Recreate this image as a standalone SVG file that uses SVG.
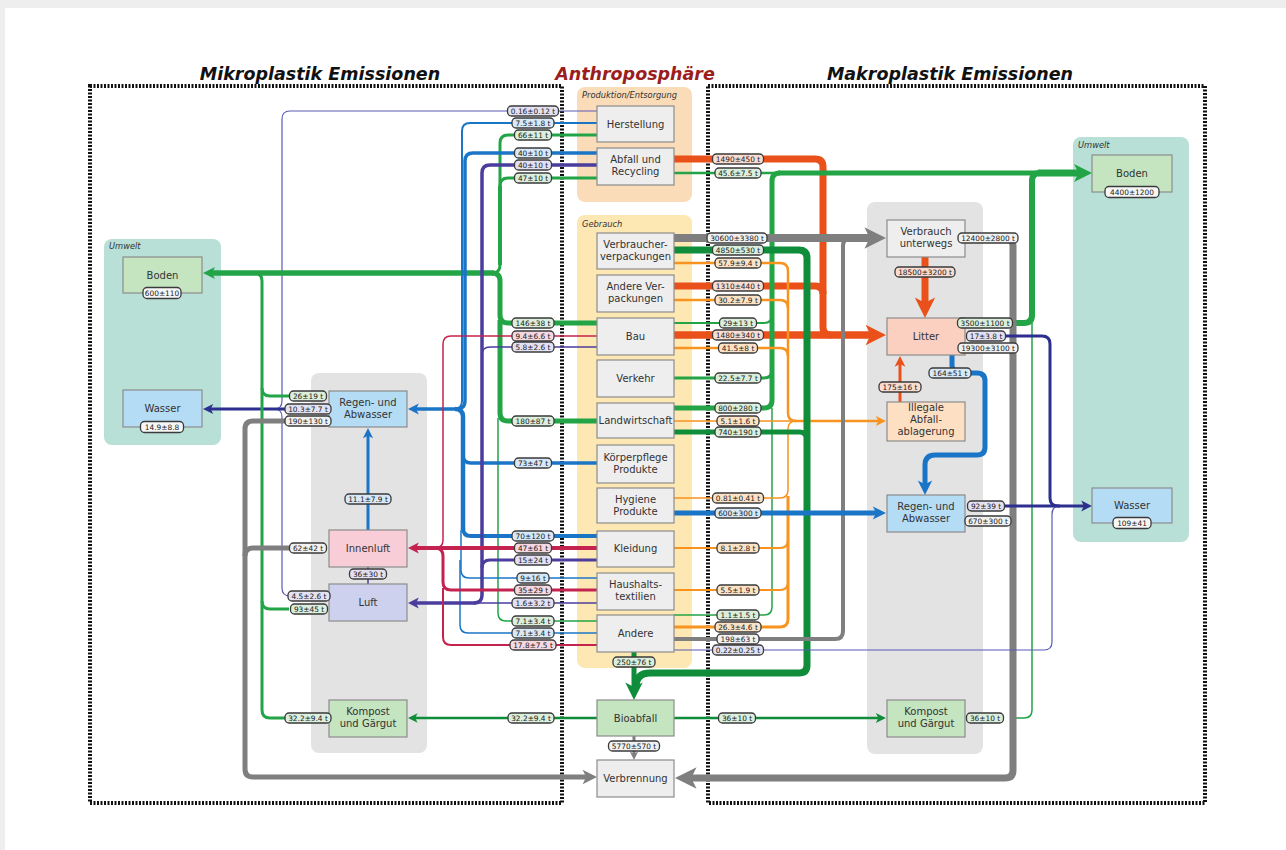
<svg xmlns="http://www.w3.org/2000/svg" xmlns:xlink="http://www.w3.org/1999/xlink" width="1286" height="850" viewBox="0 0 1286 850">
<style>
.t{font-family:"DejaVu Sans","Liberation Sans",sans-serif;font-size:10px;fill:#333;text-anchor:middle}
.bt{font-family:"DejaVu Sans","Liberation Sans",sans-serif;font-size:7.4px;fill:#1a1a1a;text-anchor:middle}
.it{font-family:"DejaVu Sans","Liberation Sans",sans-serif;font-size:8.3px;font-style:italic;fill:#333}
.ttl{font-family:"DejaVu Sans","Liberation Sans",sans-serif;font-size:17.5px;font-weight:bold;font-style:italic;fill:#111;text-anchor:middle}
.c{fill:none;stroke-linecap:butt;stroke-linejoin:round}
.g{stroke:#22a447}.dg{stroke:#0f8d3b}.r{stroke:#ea5019}.o{stroke:#f7931e}.gr{stroke:#7f7f7f}.b{stroke:#1b75c7}.p{stroke:#4a3d9e}.cr{stroke:#c4234f}.n{stroke:#2d2f8f}.nt{stroke:#5a5ab8}
.nd rect{stroke:#8c8c8c;stroke-width:1.2}
.ng{fill:#eeeeee}.nG{fill:#c5e4c0}.nB{fill:#b5dcf5}.nP{fill:#f8cdd8}.nL{fill:#cdd1ee}.nR{fill:#fcd0c0}.nO{fill:#fde0c4}
.bd rect{stroke:#3a3a3a;stroke-width:1.3}
.fg{fill:#dcefdc}.fb{fill:#d8e8f6}.fn{fill:#e2e2f2}.fp{fill:#e4e0f3}.fc{fill:#f6d8e0}.fr{fill:#fbdcd0}.fo{fill:#fde3c6}.fgr{fill:#f1f1f1}.fw{fill:#f7f7f7}
.dot{fill:none;stroke:#111;stroke-width:4;stroke-dasharray:2 1.5}
</style>
<defs>
<path id="ah" d="M0,0 L-12,-6 L-9,0 L-12,6 Z"/>
</defs>
<rect x="0" y="0" width="1286" height="850" fill="#eeeeee"/>
<rect x="5" y="8" width="1281" height="842" fill="#ffffff"/>

<g id="panels">
<rect x="104" y="239" width="117" height="206" rx="8" fill="#b8e0d7"/>
<text class="it" x="109" y="249">Umwelt</text>
<rect x="1073" y="137" width="116" height="405" rx="8" fill="#b8e0d7"/>
<text class="it" x="1078" y="148">Umwelt</text>
<rect x="311" y="373" width="116" height="380" rx="8" fill="#e3e3e3"/>
<rect x="867" y="202" width="116" height="552" rx="8" fill="#e3e3e3"/>
<rect x="577" y="87" width="115" height="115" rx="8" fill="#fadcb8"/>
<text class="it" x="582" y="98">Produktion/Entsorgung</text>
<rect x="577" y="215" width="115" height="453" rx="8" fill="#fde8b3"/>
<text class="it" x="582" y="227">Gebrauch</text>
<rect class="dot" x="90" y="86" width="472" height="717"/>
<rect class="dot" x="708" y="86" width="497" height="717"/>
<text class="ttl" x="320" y="80">Mikroplastik Emissionen</text>
<text class="ttl" x="635" y="80" style="fill:#9b1d1d">Anthroposphäre</text>
<text class="ttl" x="950" y="80">Makroplastik Emissionen</text>
</g>

<g id="connectors">
<!-- left: navy -->
<path class="c nt" stroke-width="1.2" d="M597,111 H290 Q282,111 282,119 V401 Q282,409 274,409"/>
<path class="c nt" stroke-width="1.2" d="M290,596 Q282,596 282,588 V417 Q282,409 274,409"/>
<path class="c n" stroke-width="3" d="M289,409 H210"/>
<use href="#ah" transform="translate(203,409) rotate(180) scale(0.85)" fill="#2d2f8f"/>
<!-- left: green x=262 -->
<path class="c g" stroke-width="3" d="M289,718 H270 Q262,718 262,710 V281 Q262,273 254,273"/>
<path class="c g" stroke-width="3" d="M289,396 H270 Q262,396 262,388"/>
<path class="c g" stroke-width="3" d="M289,609 H270 Q262,609 262,601"/>
<!-- left: gray x=245 -->
<path class="c gr" stroke-width="5" d="M289,421 H253 Q245,421 245,429 V769 Q245,777 253,777 H586"/>
<path class="c gr" stroke-width="5" d="M289,548 H253 Q245,548 245,556"/>
<use href="#ah" transform="translate(597,777) scale(1.2)" fill="#7f7f7f"/>
<!-- green to Boden -->
<path class="c g" stroke-width="3" d="M597,135 H508 Q500,135 500,143 V265 Q500,273 492,273"/>
<path class="c g" stroke-width="3" d="M597,178 H508 Q500,178 500,186"/>
<path class="c g" stroke-width="4" d="M500,186 V265"/>
<path class="c g" stroke-width="5" d="M597,323 H508 Q500,323 500,315 V281 Q500,273 492,273"/>
<path class="c g" stroke-width="5" d="M597,421 H508 Q500,421 500,413 V320"/>
<path class="c g" stroke-width="1.5" d="M597,621 H506 Q498,621 498,613 V418"/>
<path class="c g" stroke-width="5.5" d="M494,273 H211"/>
<use href="#ah" transform="translate(203,273) rotate(180)" fill="#22a447"/>
<!-- blue to Regen -->
<path class="c b" stroke-width="2" d="M597,123 H470 Q462,123 462,131 V401 Q462,409 454,409"/>
<path class="c b" stroke-width="3.5" d="M597,153 H473 Q465,153 465,161 V401 Q465,409 457,409"/>
<path class="c b" stroke-width="3.5" d="M597,463 H471 Q463,463 463,455"/>
<path class="c b" stroke-width="4" d="M597,536 H471 Q463,536 463,528"/>
<path class="c b" stroke-width="4.5" d="M463,530 V417 Q463,409 455,409"/>
<path class="c b" stroke-width="1.5" d="M597,578 H469 Q461,578 461,570 V530"/>
<path class="c b" stroke-width="1.5" d="M597,633 H468 Q460,633 460,625 V560"/>
<path class="c b" stroke-width="3.5" d="M457,409 H415"/>
<use href="#ah" transform="translate(408,409) rotate(180) scale(0.9)" fill="#1b75c7"/>
<!-- purple to Luft -->
<path class="c p" stroke-width="3.5" d="M597,165 H490 Q482,165 482,173 V595 Q482,603 474,603"/>
<path class="c p" stroke-width="1.5" d="M597,347 H490 Q482,347 482,355"/>
<path class="c p" stroke-width="3" d="M597,560 H490 Q482,560 482,568"/>
<path class="c p" stroke-width="1.5" d="M597,603 H474"/>
<path class="c p" stroke-width="3.5" d="M476,603 H415"/>
<use href="#ah" transform="translate(408,603) rotate(180) scale(0.9)" fill="#4a3d9e"/>
<!-- crimson to Innenluft -->
<path class="c cr" stroke-width="1.5" d="M597,336 H451 Q443,336 443,344 V540 Q443,548 435,548"/>
<path class="c cr" stroke-width="3" d="M597,590 H451 Q443,590 443,582 V556 Q443,548 435,548"/>
<path class="c cr" stroke-width="2" d="M597,645 H451 Q443,645 443,637 V588"/>
<path class="c cr" stroke-width="4" d="M597,548 H415"/>
<use href="#ah" transform="translate(408,548) rotate(180) scale(0.9)" fill="#c4234f"/>
<!-- internal left -->
<path class="c b" stroke-width="3" d="M368,530 V435"/>
<use href="#ah" transform="translate(368,428) rotate(-90) scale(0.85)" fill="#1b75c7"/>
<path class="c p" stroke-width="1.5" d="M368,567 V584"/>
<path class="c dg" stroke-width="2.5" d="M597,718 H414"/>
<use href="#ah" transform="translate(408,718) rotate(180) scale(0.8)" fill="#0f8d3b"/>
<!-- bioabfall / verbrennung -->
<path class="c dg" stroke-width="5" d="M634,652 V688"/>
<path class="c gr" stroke-width="3" d="M634,736 V754"/>
<use href="#ah" transform="translate(634,760) rotate(90) scale(0.7)" fill="#7f7f7f"/>
<!-- right: red -->
<path class="c r" stroke-width="7" d="M674,159 H815 Q823,159 823,167 V327 Q823,335 831,335"/>
<path class="c r" stroke-width="7" d="M674,286 H815 Q823,286 823,294"/>
<path class="c r" stroke-width="7.5" d="M674,335 H872"/>
<use href="#ah" transform="translate(886,335) scale(1.7)" fill="#ea5019"/>
<path class="c r" stroke-width="7" d="M925,257 V304"/>
<use href="#ah" transform="translate(925,318) rotate(90) scale(1.7)" fill="#ea5019"/>
<path class="c r" stroke-width="3" d="M900,402 V363"/>
<use href="#ah" transform="translate(900,356) rotate(-90) scale(0.9)" fill="#ea5019"/>
<!-- right: green -->
<path class="c g" stroke-width="2.5" d="M674,173 H780"/>
<path class="c g" stroke-width="2" d="M674,323 H764 Q772,323 772,315"/>
<path class="c g" stroke-width="3" d="M674,378 H764 Q772,378 772,370"/>
<path class="c g" stroke-width="1.5" d="M674,615 H764 Q772,615 772,607 V408"/>
<path class="c g" stroke-width="5" d="M674,408 H764 Q772,408 772,400 V181 Q772,173 780,173"/>
<path class="c g" stroke-width="5" d="M778,173 H1040"/>
<path class="c g" stroke-width="1.5" d="M1012,718 H1024 Q1032,718 1032,710 V323"/>
<path class="c g" stroke-width="6" d="M1012,323 H1024 Q1032,323 1032,315 V181 Q1032,173 1040,173"/>
<path class="c g" stroke-width="7" d="M1038,173 H1080"/>
<use href="#ah" transform="translate(1092,173) scale(1.5)" fill="#22a447"/>
<!-- right: orange -->
<path class="c o" stroke-width="2.5" d="M674,263 H780 Q788,263 788,271 V413 Q788,421 796,421"/>
<path class="c o" stroke-width="2.5" d="M674,300 H780 Q788,300 788,308"/>
<path class="c o" stroke-width="2.5" d="M674,348 H780 Q788,348 788,356"/>
<path class="c o" stroke-width="1.5" d="M674,421 H796"/>
<path class="c o" stroke-width="1.5" d="M674,498 H780 Q788,498 788,490 V429 Q788,421 796,421"/>
<path class="c o" stroke-width="2" d="M674,548 H780 Q788,548 788,540"/>
<path class="c o" stroke-width="2" d="M674,590 H780 Q788,590 788,582"/>
<path class="c o" stroke-width="3" d="M674,627 H780 Q788,627 788,619 V496"/>
<path class="c o" stroke-width="2.5" d="M794,421 H879"/>
<use href="#ah" transform="translate(886,421) scale(0.85)" fill="#f7931e"/>
<!-- right: dark green -->
<path class="c dg" stroke-width="7" d="M674,250 H799 Q807,250 807,258 V665 Q807,673 799,673 H650 Q636,673 636,687"/>
<path class="c dg" stroke-width="5" d="M674,432 H799 Q807,432 807,440"/>
<use href="#ah" transform="translate(634,700) rotate(90) scale(1.45)" fill="#0f8d3b"/>
<path class="c dg" stroke-width="2.5" d="M674,718 H879"/>
<use href="#ah" transform="translate(886,718) scale(0.85)" fill="#0f8d3b"/>
<!-- right: gray -->
<path class="c gr" stroke-width="4" d="M674,639 H835 Q843,639 843,631 V246 Q843,238 851,238"/>
<path class="c gr" stroke-width="8" d="M674,238 H872"/>
<use href="#ah" transform="translate(886,238) scale(1.8)" fill="#7f7f7f"/>
<path class="c gr" stroke-width="6" d="M990,348 H1005 Q1013,348 1013,356"/>
<path class="c gr" stroke-width="4" d="M990,521 H1005 Q1013,521 1013,529"/>
<path class="c gr" stroke-width="7" d="M990,238 H1005 Q1013,238 1013,246 V770 Q1013,778 1005,778 H689"/>
<use href="#ah" transform="translate(675,778) rotate(180) scale(1.8)" fill="#7f7f7f"/>
<!-- right: navy -->
<path class="c nt" stroke-width="1.2" d="M674,650 H1044 Q1052,650 1052,642 V514 Q1052,506 1060,506"/>
<path class="c n" stroke-width="3" d="M990,336 H1042 Q1050,336 1050,344 V498 Q1050,506 1058,506 H1085"/>
<path class="c n" stroke-width="3" d="M990,506 H1060"/>
<use href="#ah" transform="translate(1092,506) scale(0.9)" fill="#2d2f8f"/>
<!-- right: blue -->
<path class="c b" stroke-width="5" d="M674,513 H877"/>
<use href="#ah" transform="translate(886,513) scale(1.1)" fill="#1b75c7"/>
<path class="c b" stroke-width="5" d="M952,355 V365 Q952,373 960,373 H977 Q985,373 985,381 V447 Q985,455 977,455 H935 Q925,455 925,465 V485"/>
<use href="#ah" transform="translate(925,495) rotate(90) scale(1.2)" fill="#1b75c7"/>
</g>

<g id="n-herstellung" class="nd"><rect class="ng" x="597" y="106" width="77" height="36"/><text class="t" x="635.5" y="127.5">Herstellung</text></g>
<g id="n-abfall" class="nd"><rect class="ng" x="597" y="148" width="77" height="37"/><text class="t" x="635.5" y="163">Abfall und</text><text class="t" x="635.5" y="175">Recycling</text></g>
<g id="n-vverp" class="nd"><rect class="ng" x="597" y="233" width="77" height="36"/><text class="t" x="635.5" y="248">Verbraucher-</text><text class="t" x="635.5" y="260">verpackungen</text></g>
<g id="n-averp" class="nd"><rect class="ng" x="597" y="275" width="77" height="37"/><text class="t" x="635.5" y="290">Andere Ver-</text><text class="t" x="635.5" y="302">packungen</text></g>
<g id="n-bau" class="nd"><rect class="ng" x="597" y="318" width="77" height="37"/><text class="t" x="635.5" y="340">Bau</text></g>
<g id="n-verkehr" class="nd"><rect class="ng" x="597" y="360" width="77" height="37"/><text class="t" x="635.5" y="382">Verkehr</text></g>
<g id="n-landw" class="nd"><rect class="ng" x="597" y="403" width="77" height="35"/><text class="t" x="635.5" y="424">Landwirtschaft</text></g>
<g id="n-koerper" class="nd"><rect class="ng" x="597" y="445" width="77" height="38"/><text class="t" x="635.5" y="461">Körperpflege</text><text class="t" x="635.5" y="473">Produkte</text></g>
<g id="n-hygiene" class="nd"><rect class="ng" x="597" y="488" width="77" height="35"/><text class="t" x="635.5" y="503">Hygiene</text><text class="t" x="635.5" y="515">Produkte</text></g>
<g id="n-kleidung" class="nd"><rect class="ng" x="597" y="531" width="77" height="36"/><text class="t" x="635.5" y="552">Kleidung</text></g>
<g id="n-haushalt" class="nd"><rect class="ng" x="597" y="573" width="77" height="37"/><text class="t" x="635.5" y="588">Haushalts-</text><text class="t" x="635.5" y="600">textilien</text></g>
<g id="n-andere" class="nd"><rect class="ng" x="597" y="615" width="77" height="37"/><text class="t" x="635.5" y="637">Andere</text></g>
<g id="n-bioabfall" class="nd"><rect class="nG" x="597" y="700" width="77" height="36"/><text class="t" x="635.5" y="721.5">Bioabfall</text></g>
<g id="n-verbrennung" class="nd"><rect class="ng" x="597" y="760" width="77" height="37"/><text class="t" x="635.5" y="782">Verbrennung</text></g>

<g id="n-boden-l" class="nd"><rect class="nG" x="123" y="257" width="79" height="36"/><text class="t" x="162.5" y="279">Boden</text></g>
<g id="n-wasser-l" class="nd"><rect class="nB" x="123" y="390" width="79" height="37"/><text class="t" x="162.5" y="412">Wasser</text></g>
<g id="n-regen-l" class="nd"><rect class="nB" x="329" y="391" width="78" height="36"/><text class="t" x="368" y="406">Regen- und</text><text class="t" x="368" y="418">Abwasser</text></g>
<g id="n-innenluft" class="nd"><rect class="nP" x="329" y="530" width="78" height="37"/><text class="t" x="368" y="552">Innenluft</text></g>
<g id="n-luft" class="nd"><rect class="nL" x="329" y="584" width="78" height="37"/><text class="t" x="368" y="606">Luft</text></g>
<g id="n-kompost-l" class="nd"><rect class="nG" x="329" y="700" width="78" height="37"/><text class="t" x="368" y="715">Kompost</text><text class="t" x="368" y="727">und Gärgut</text></g>

<g id="n-verbrauch" class="nd"><rect class="ng" x="887" y="220" width="78" height="37"/><text class="t" x="926" y="235">Verbrauch</text><text class="t" x="926" y="247">unterwegs</text></g>
<g id="n-litter" class="nd"><rect class="nR" x="887" y="318" width="78" height="37"/><text class="t" x="926" y="340">Litter</text></g>
<g id="n-illegal" class="nd"><rect class="nO" x="887" y="402" width="78" height="39"/><text class="t" x="926" y="411">Illegale</text><text class="t" x="926" y="423">Abfall-</text><text class="t" x="926" y="435">ablagerung</text></g>
<g id="n-regen-r" class="nd"><rect class="nB" x="887" y="495" width="78" height="37"/><text class="t" x="926" y="510">Regen- und</text><text class="t" x="926" y="522">Abwasser</text></g>
<g id="n-kompost-r" class="nd"><rect class="nG" x="887" y="700" width="78" height="37"/><text class="t" x="926" y="715">Kompost</text><text class="t" x="926" y="727">und Gärgut</text></g>
<g id="n-boden-r" class="nd"><rect class="nG" x="1092" y="155" width="80" height="37"/><text class="t" x="1132" y="177">Boden</text></g>
<g id="n-wasser-r" class="nd"><rect class="nB" x="1092" y="488" width="80" height="35"/><text class="t" x="1132" y="509">Wasser</text></g>

<g id="labels" class="bd">
<g transform="translate(533,111)"><rect class="fn" x="-25.5" y="-5" width="51" height="10" rx="4"/><text class="bt" y="2.6">0.16±0.12 t</text></g>
<g transform="translate(533,123)"><rect class="fb" x="-21" y="-5" width="42" height="10" rx="4"/><text class="bt" y="2.6">7.5±1.8 t</text></g>
<g transform="translate(533,135)"><rect class="fg" x="-18.5" y="-5" width="37" height="10" rx="4"/><text class="bt" y="2.6">66±11 t</text></g>
<g transform="translate(533,153)"><rect class="fb" x="-18.5" y="-5" width="37" height="10" rx="4"/><text class="bt" y="2.6">40±10 t</text></g>
<g transform="translate(533,165)"><rect class="fp" x="-18.5" y="-5" width="37" height="10" rx="4"/><text class="bt" y="2.6">40±10 t</text></g>
<g transform="translate(533,178)"><rect class="fg" x="-18.5" y="-5" width="37" height="10" rx="4"/><text class="bt" y="2.6">47±10 t</text></g>
<g transform="translate(533,323)"><rect class="fg" x="-21" y="-5" width="42" height="10" rx="4"/><text class="bt" y="2.6">146±38 t</text></g>
<g transform="translate(533,336)"><rect class="fc" x="-21" y="-5" width="42" height="10" rx="4"/><text class="bt" y="2.6">9.4±6.6 t</text></g>
<g transform="translate(533,347)"><rect class="fp" x="-21" y="-5" width="42" height="10" rx="4"/><text class="bt" y="2.6">5.8±2.6 t</text></g>
<g transform="translate(533,421)"><rect class="fg" x="-21" y="-5" width="42" height="10" rx="4"/><text class="bt" y="2.6">180±87 t</text></g>
<g transform="translate(533,463)"><rect class="fb" x="-18.5" y="-5" width="37" height="10" rx="4"/><text class="bt" y="2.6">73±47 t</text></g>
<g transform="translate(533,536)"><rect class="fb" x="-21" y="-5" width="42" height="10" rx="4"/><text class="bt" y="2.6">70±120 t</text></g>
<g transform="translate(533,548)"><rect class="fc" x="-18.5" y="-5" width="37" height="10" rx="4"/><text class="bt" y="2.6">47±61 t</text></g>
<g transform="translate(533,560)"><rect class="fp" x="-18.5" y="-5" width="37" height="10" rx="4"/><text class="bt" y="2.6">15±24 t</text></g>
<g transform="translate(533,578)"><rect class="fb" x="-16" y="-5" width="32" height="10" rx="4"/><text class="bt" y="2.6">9±16 t</text></g>
<g transform="translate(533,590)"><rect class="fc" x="-18.5" y="-5" width="37" height="10" rx="4"/><text class="bt" y="2.6">35±29 t</text></g>
<g transform="translate(533,603)"><rect class="fp" x="-21" y="-5" width="42" height="10" rx="4"/><text class="bt" y="2.6">1.6±3.2 t</text></g>
<g transform="translate(533,621)"><rect class="fg" x="-21" y="-5" width="42" height="10" rx="4"/><text class="bt" y="2.6">7.1±3.4 t</text></g>
<g transform="translate(533,633)"><rect class="fb" x="-21" y="-5" width="42" height="10" rx="4"/><text class="bt" y="2.6">7.1±3.4 t</text></g>
<g transform="translate(533,645)"><rect class="fc" x="-23" y="-5" width="46" height="10" rx="4"/><text class="bt" y="2.6">17.8±7.5 t</text></g>
<g transform="translate(531,718)"><rect class="fg" x="-23" y="-5" width="46" height="10" rx="4"/><text class="bt" y="2.6">32.2±9.4 t</text></g>

<g transform="translate(738,159)"><rect class="fr" x="-25.5" y="-5" width="51" height="10" rx="4"/><text class="bt" y="2.6">1490±450 t</text></g>
<g transform="translate(738,173)"><rect class="fg" x="-23" y="-5" width="46" height="10" rx="4"/><text class="bt" y="2.6">45.6±7.5 t</text></g>
<g transform="translate(737,238)"><rect class="fgr" x="-30" y="-5" width="60" height="10" rx="4"/><text class="bt" y="2.6">30600±3380 t</text></g>
<g transform="translate(738,250)"><rect class="fg" x="-25.5" y="-5" width="51" height="10" rx="4"/><text class="bt" y="2.6">4850±530 t</text></g>
<g transform="translate(738,263)"><rect class="fo" x="-23" y="-5" width="46" height="10" rx="4"/><text class="bt" y="2.6">57.9±9.4 t</text></g>
<g transform="translate(738,286)"><rect class="fr" x="-25.5" y="-5" width="51" height="10" rx="4"/><text class="bt" y="2.6">1310±440 t</text></g>
<g transform="translate(738,300)"><rect class="fo" x="-23" y="-5" width="46" height="10" rx="4"/><text class="bt" y="2.6">30.2±7.9 t</text></g>
<g transform="translate(738,323)"><rect class="fg" x="-18.5" y="-5" width="37" height="10" rx="4"/><text class="bt" y="2.6">29±13 t</text></g>
<g transform="translate(738,335)"><rect class="fr" x="-25.5" y="-5" width="51" height="10" rx="4"/><text class="bt" y="2.6">1480±340 t</text></g>
<g transform="translate(738,348)"><rect class="fo" x="-19.5" y="-5" width="39" height="10" rx="4"/><text class="bt" y="2.6">41.5±8 t</text></g>
<g transform="translate(738,378)"><rect class="fg" x="-23" y="-5" width="46" height="10" rx="4"/><text class="bt" y="2.6">22.5±7.7 t</text></g>
<g transform="translate(738,408)"><rect class="fg" x="-23" y="-5" width="46" height="10" rx="4"/><text class="bt" y="2.6">800±280 t</text></g>
<g transform="translate(738,421)"><rect class="fo" x="-21" y="-5" width="42" height="10" rx="4"/><text class="bt" y="2.6">5.1±1.6 t</text></g>
<g transform="translate(738,432)"><rect class="fg" x="-23" y="-5" width="46" height="10" rx="4"/><text class="bt" y="2.6">740±190 t</text></g>
<g transform="translate(738,498)"><rect class="fo" x="-25.5" y="-5" width="51" height="10" rx="4"/><text class="bt" y="2.6">0.81±0.41 t</text></g>
<g transform="translate(738,513)"><rect class="fb" x="-23" y="-5" width="46" height="10" rx="4"/><text class="bt" y="2.6">600±300 t</text></g>
<g transform="translate(738,548)"><rect class="fo" x="-21" y="-5" width="42" height="10" rx="4"/><text class="bt" y="2.6">8.1±2.8 t</text></g>
<g transform="translate(738,590)"><rect class="fo" x="-21" y="-5" width="42" height="10" rx="4"/><text class="bt" y="2.6">5.5±1.9 t</text></g>
<g transform="translate(738,615)"><rect class="fg" x="-21" y="-5" width="42" height="10" rx="4"/><text class="bt" y="2.6">1.1±1.5 t</text></g>
<g transform="translate(738,627)"><rect class="fo" x="-23" y="-5" width="46" height="10" rx="4"/><text class="bt" y="2.6">26.3±4.6 t</text></g>
<g transform="translate(738,639)"><rect class="fgr" x="-21" y="-5" width="42" height="10" rx="4"/><text class="bt" y="2.6">198±63 t</text></g>
<g transform="translate(738,650)"><rect class="fn" x="-25.5" y="-5" width="51" height="10" rx="4"/><text class="bt" y="2.6">0.22±0.25 t</text></g>
<g transform="translate(737,718)"><rect class="fg" x="-18.5" y="-5" width="37" height="10" rx="4"/><text class="bt" y="2.6">36±10 t</text></g>

<g transform="translate(308,396)"><rect class="fg" x="-18.5" y="-5" width="37" height="10" rx="4"/><text class="bt" y="2.6">26±19 t</text></g>
<g transform="translate(308,409)"><rect class="fn" x="-23" y="-5" width="46" height="10" rx="4"/><text class="bt" y="2.6">10.3±7.7 t</text></g>
<g transform="translate(308,421)"><rect class="fgr" x="-23" y="-5" width="46" height="10" rx="4"/><text class="bt" y="2.6">190±130 t</text></g>
<g transform="translate(308,548)"><rect class="fgr" x="-18.5" y="-5" width="37" height="10" rx="4"/><text class="bt" y="2.6">62±42 t</text></g>
<g transform="translate(309,596)"><rect class="fn" x="-21" y="-5" width="42" height="10" rx="4"/><text class="bt" y="2.6">4.5±2.6 t</text></g>
<g transform="translate(309,609)"><rect class="fg" x="-18.5" y="-5" width="37" height="10" rx="4"/><text class="bt" y="2.6">93±45 t</text></g>
<g transform="translate(308,718)"><rect class="fg" x="-23" y="-5" width="46" height="10" rx="4"/><text class="bt" y="2.6">32.2±9.4 t</text></g>
<g transform="translate(368,499)"><rect class="fb" x="-23" y="-5" width="46" height="10" rx="4"/><text class="bt" y="2.6">11.1±7.9 t</text></g>
<g transform="translate(368,574)"><rect class="fp" x="-18.5" y="-5" width="37" height="10" rx="4"/><text class="bt" y="2.6">36±30 t</text></g>
<g transform="translate(162,293)"><rect class="fw" x="-19" y="-5.5" width="38" height="11" rx="4"/><text class="bt" y="2.7">600±110</text></g>
<g transform="translate(162,427)"><rect class="fw" x="-21.5" y="-5.5" width="43" height="11" rx="4"/><text class="bt" y="2.7">14.9±8.8</text></g>
<g transform="translate(634,662)"><rect class="fg" x="-21" y="-5" width="42" height="10" rx="4"/><text class="bt" y="2.6">250±76 t</text></g>
<g transform="translate(634,746)"><rect class="fgr" x="-25.5" y="-5" width="51" height="10" rx="4"/><text class="bt" y="2.6">5770±570 t</text></g>
<g transform="translate(925,272)"><rect class="fr" x="-30" y="-5" width="60" height="10" rx="4"/><text class="bt" y="2.6">18500±3200 t</text></g>
<g transform="translate(988,238)"><rect class="fgr" x="-30" y="-5" width="60" height="10" rx="4"/><text class="bt" y="2.6">12400±2800 t</text></g>
<g transform="translate(985,323)"><rect class="fg" x="-27.5" y="-5" width="55" height="10" rx="4"/><text class="bt" y="2.6">3500±1100 t</text></g>
<g transform="translate(986,336)"><rect class="fn" x="-19.5" y="-5" width="39" height="10" rx="4"/><text class="bt" y="2.6">17±3.8 t</text></g>
<g transform="translate(988,348)"><rect class="fgr" x="-30" y="-5" width="60" height="10" rx="4"/><text class="bt" y="2.6">19300±3100 t</text></g>
<g transform="translate(950,373)"><rect class="fb" x="-21" y="-5" width="42" height="10" rx="4"/><text class="bt" y="2.6">164±51 t</text></g>
<g transform="translate(900,387)"><rect class="fr" x="-21" y="-5" width="42" height="10" rx="4"/><text class="bt" y="2.6">175±16 t</text></g>
<g transform="translate(986,506)"><rect class="fn" x="-18.5" y="-5" width="37" height="10" rx="4"/><text class="bt" y="2.6">92±39 t</text></g>
<g transform="translate(988,521)"><rect class="fgr" x="-23" y="-5" width="46" height="10" rx="4"/><text class="bt" y="2.6">670±300 t</text></g>
<g transform="translate(985,718)"><rect class="fg" x="-18.5" y="-5" width="37" height="10" rx="4"/><text class="bt" y="2.6">36±10 t</text></g>
<g transform="translate(1132,192)"><rect class="fw" x="-27" y="-5.5" width="54" height="11" rx="4"/><text class="bt" y="2.7">4400±1200</text></g>
<g transform="translate(1132,523)"><rect class="fw" x="-19" y="-5.5" width="38" height="11" rx="4"/><text class="bt" y="2.7">109±41</text></g>
</g>
</svg>
